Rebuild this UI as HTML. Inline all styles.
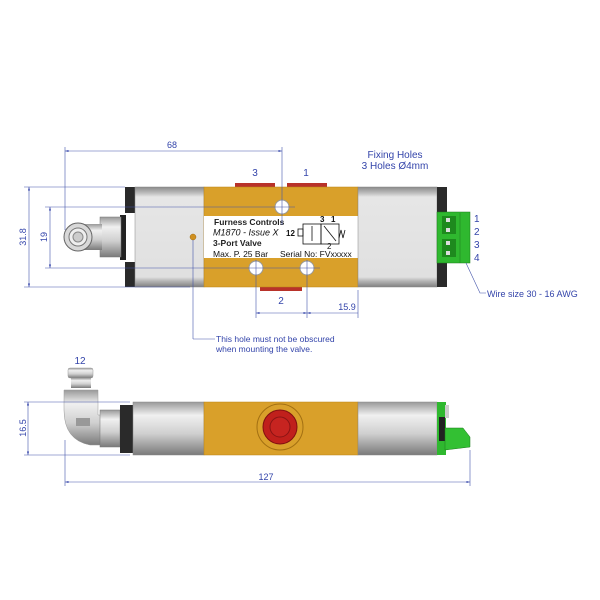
<!DOCTYPE html>
<html><head><meta charset="utf-8"><style>
body{margin:0;background:#fff;width:600px;height:600px;overflow:hidden}
svg{display:block}
text{font-family:"Liberation Sans",sans-serif}
</style></head><body>
<svg width="600" height="600" viewBox="0 0 600 600">
<defs>
<linearGradient id="sv" x1="0" y1="0" x2="0" y2="1">
<stop offset="0" stop-color="#8a8a8a"/><stop offset="0.06" stop-color="#bdbdbd"/><stop offset="0.1" stop-color="#e6e6e6"/><stop offset="0.9" stop-color="#e0e0e0"/><stop offset="0.94" stop-color="#b5b5b5"/><stop offset="1" stop-color="#808080"/></linearGradient>
<linearGradient id="svc" x1="0" y1="0" x2="0" y2="1">
<stop offset="0" stop-color="#999"/><stop offset="0.25" stop-color="#f0f0f0"/><stop offset="0.6" stop-color="#cfcfcf"/><stop offset="1" stop-color="#7a7a7a"/></linearGradient>
<marker id="ar" viewBox="0 0 10 10" refX="10" refY="5" markerWidth="6" markerHeight="6" orient="auto-start-reverse"><path d="M0,2 L10,5 L0,8z" fill="#3344aa"/></marker>
</defs>

<!-- TOP VIEW -->
<rect x="120" y="215" width="6" height="45" fill="#222"/>
<rect x="100" y="217" width="21" height="40" fill="url(#svc)" stroke="#777" stroke-width="0.5"/>
<rect x="84" y="224" width="18" height="26" fill="url(#svc)"/>
<circle cx="78" cy="237" r="14" fill="#d8d8d8" stroke="#666"/>
<circle cx="78" cy="237" r="9" fill="#eee" stroke="#777"/>
<circle cx="78" cy="237" r="5" fill="#ccc" stroke="#888"/>
<rect x="125" y="187" width="10" height="26" fill="#2a2a2a"/>
<rect x="125" y="262" width="10" height="25" fill="#2a2a2a"/>
<rect x="135" y="187" width="69" height="100" fill="url(#sv)" stroke="#888" stroke-width="0.5"/>
<rect x="235" y="183" width="40" height="4" fill="#b8322a"/>
<rect x="287" y="183" width="40" height="4" fill="#b8322a"/>
<rect x="260" y="287" width="42" height="4" fill="#b8322a"/>
<rect x="204" y="187" width="154" height="100" fill="#d9a02a" stroke="#b98316" stroke-width="0.5"/>
<rect x="204" y="216" width="154" height="42" fill="#fff"/>
<circle cx="282" cy="207" r="7" fill="#fff" stroke="#999"/>
<circle cx="256" cy="268" r="7" fill="#fff" stroke="#999"/>
<circle cx="307" cy="268" r="7" fill="#fff" stroke="#999"/>
<circle cx="193" cy="237" r="3" fill="#d09020" stroke="#a06a10" stroke-width="0.5"/>
<rect x="358" y="187" width="79" height="100" fill="url(#sv)" stroke="#888" stroke-width="0.5"/>
<rect x="437" y="187" width="10" height="100" fill="#2a2a2a"/>
<rect x="437" y="212" width="33" height="51" fill="#2fb82f" stroke="#1a7a1a" stroke-width="0.5"/>
<rect x="442" y="216" width="14" height="18" fill="#1e8a1e"/>
<rect x="442" y="239" width="14" height="18" fill="#1e8a1e"/>
<rect x="446" y="218" width="4" height="4" fill="#ddd"/><rect x="446" y="228" width="4" height="4" fill="#ddd"/>
<rect x="446" y="241" width="4" height="4" fill="#ddd"/><rect x="446" y="251" width="4" height="4" fill="#ddd"/>
<line x1="460" y1="213" x2="460" y2="263" stroke="#1a7a1a" stroke-width="0.5"/>

<g fill="#111" font-size="8.5">
<text x="214" y="225" font-weight="bold" fill="#222">Furness Controls</text>
<text x="213" y="235.5" font-style="italic" font-size="9">M1870 - Issue X</text>
<text x="213" y="246" font-weight="bold" fill="#222">3-Port Valve</text>
<text x="213" y="257">Max. P. 25 Bar</text>
<text x="280" y="257">Serial No: FVxxxxx</text>
<text x="286" y="236" font-size="8" font-weight="bold">12</text>
<text x="320" y="222" font-size="8" font-weight="bold">3</text><text x="331" y="222" font-size="8" font-weight="bold">1</text>
<text x="327" y="249" font-size="8">2</text>
</g>
<g stroke="#111" fill="none" stroke-width="0.8">
<rect x="298" y="229" width="5" height="7"/>
<rect x="303" y="224" width="18" height="20"/>
<rect x="321" y="224" width="18" height="20"/>
<line x1="312" y1="226" x2="312" y2="241"/>
<line x1="324" y1="226" x2="336" y2="241"/>
<path d="M339,238 l2,-8 l2,8 l2,-8"/>
</g>

<g stroke="#4455aa" stroke-width="0.6" fill="none">
<line x1="65" y1="151" x2="282" y2="151" marker-start="url(#ar)" marker-end="url(#ar)"/>
<line x1="65" y1="147" x2="65" y2="230"/>
<line x1="282" y1="147" x2="282" y2="225"/>
<line x1="24" y1="187" x2="125" y2="187"/>
<line x1="24" y1="287" x2="190" y2="287"/>
<line x1="29" y1="187" x2="29" y2="287" marker-start="url(#ar)" marker-end="url(#ar)"/>
<line x1="45" y1="207" x2="295" y2="207"/>
<line x1="45" y1="268" x2="320" y2="268"/>
<line x1="50" y1="207" x2="50" y2="268" marker-start="url(#ar)" marker-end="url(#ar)"/>
<line x1="256" y1="260" x2="256" y2="318"/>
<line x1="307" y1="260" x2="307" y2="318"/>
<line x1="358" y1="290" x2="358" y2="318"/>
<line x1="256" y1="313" x2="307" y2="313" marker-start="url(#ar)" marker-end="url(#ar)"/>
<line x1="307" y1="313" x2="358" y2="313" marker-start="url(#ar)"/>
<line x1="193" y1="240" x2="193" y2="339"/>
<line x1="193" y1="339" x2="215" y2="339"/>
<path d="M466,263 L480,293 L486,293"/>
</g>
<g fill="#3344aa" font-size="9">
<text x="172" y="148" text-anchor="middle">68</text>
<text x="255" y="176" font-size="10" text-anchor="middle">3</text>
<text x="306" y="176" font-size="10" text-anchor="middle">1</text>
<text x="395" y="158" font-size="10" text-anchor="middle">Fixing Holes</text>
<text x="395" y="169" font-size="10" text-anchor="middle">3 Holes Ø4mm</text>
<text x="281" y="304" font-size="10" text-anchor="middle">2</text>
<text x="347" y="310" text-anchor="middle">15.9</text>
<text x="26" y="237" transform="rotate(-90 26 237)" text-anchor="middle">31.8</text>
<text x="47" y="237" transform="rotate(-90 47 237)" text-anchor="middle">19</text>
<text x="216" y="342" font-size="8.5">This hole must not be obscured</text>
<text x="216" y="352" font-size="8.5">when mounting the valve.</text>
<text x="474" y="222" font-size="10">1</text>
<text x="474" y="235" font-size="10">2</text>
<text x="474" y="248" font-size="10">3</text>
<text x="474" y="261" font-size="10">4</text>
<text x="487" y="297" font-size="9">Wire size 30 - 16 AWG</text>
<text x="80" y="364" font-size="10" text-anchor="middle">12</text>
<text x="266" y="480" text-anchor="middle">127</text>
<text x="26" y="428" transform="rotate(-90 26 428)" text-anchor="middle">16.5</text>
</g>

<!-- BOTTOM VIEW -->
<rect x="68" y="368" width="25" height="10" rx="2" fill="url(#svc)" stroke="#999" stroke-width="0.5"/>
<rect x="71" y="378" width="20" height="10" fill="url(#svc)"/>
<path d="M64,390 L98,390 L98,415 L102,415 L102,445 L90,445 Q64,440 64,410 Z" fill="url(#svc)" stroke="#999" stroke-width="0.5"/>
<rect x="76" y="418" width="14" height="8" fill="#999"/>
<rect x="100" y="410" width="20" height="37" fill="url(#svc)" stroke="#777" stroke-width="0.5"/>
<rect x="120" y="405" width="13" height="48" fill="#2a2a2a"/>
<rect x="133" y="402" width="71" height="53" fill="url(#svc)" stroke="#888" stroke-width="0.5"/>
<rect x="204" y="402" width="154" height="53" fill="#d9a02a" stroke="#b98316" stroke-width="0.5"/>
<circle cx="280" cy="427" r="23" fill="#d9a02a" stroke="#a37012"/>
<circle cx="280" cy="427" r="17" fill="#c0201c" stroke="#801010"/>
<circle cx="280" cy="427" r="10" fill="#c62420" stroke="#8a1414"/>
<rect x="358" y="402" width="79" height="53" fill="url(#svc)" stroke="#888" stroke-width="0.5"/>
<rect x="437" y="402" width="9" height="53" fill="#2fb82f"/>
<rect x="439" y="417" width="6" height="24" fill="#222"/>
<rect x="445" y="405" width="4" height="13" fill="#ccc"/>
<path d="M445,428 L463,428 L470,437 L470,447 L445,450 Z" fill="#33c033" stroke="#1a7a1a" stroke-width="0.5"/>
<g stroke="#4455aa" stroke-width="0.6" fill="none">
<line x1="24" y1="402" x2="130" y2="402"/>
<line x1="24" y1="455" x2="130" y2="455"/>
<line x1="28" y1="402" x2="28" y2="455" marker-start="url(#ar)" marker-end="url(#ar)"/>
<line x1="65" y1="440" x2="65" y2="486"/>
<line x1="470" y1="450" x2="470" y2="486"/>
<line x1="65" y1="482" x2="470" y2="482" marker-start="url(#ar)" marker-end="url(#ar)"/>
</g>
</svg>
</body></html>
